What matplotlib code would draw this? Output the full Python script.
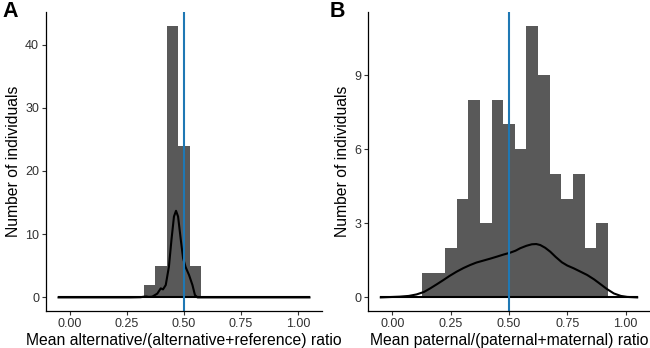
import matplotlib
matplotlib.use("Agg")
import matplotlib.pyplot as plt
import numpy as np

plt.rcParams['font.family'] = ['Liberation Sans', 'DejaVu Sans']

# histogram bins (width 0.05) and counts
edges_a = [0.325, 0.375, 0.425, 0.475, 0.525, 0.575]
counts_a = [2, 5, 43, 24, 5]
edges_b = [0.125, 0.175, 0.225, 0.275, 0.325, 0.375, 0.425, 0.475, 0.525,
           0.575, 0.625, 0.675, 0.725, 0.775, 0.825, 0.875, 0.925]
counts_b = [1, 1, 2, 4, 8, 3, 8, 7, 6, 11, 9, 5, 4, 5, 2, 3]

# density curves
dens_xa = [-0.05, 0.266, 0.31, 0.325, 0.335, 0.346, 0.361, 0.383, 0.398, 0.408,
           0.42, 0.434, 0.445, 0.456, 0.465, 0.474, 0.486, 0.496, 0.507, 0.522,
           0.537, 0.548, 0.559, 1.05]
dens_ya = [0, 0, 0.03, 0.12, 0.14, 0.07, 0.12, 0.6, 1.43, 1.27,
           1.96, 4.9, 9.1, 12.8, 13.7, 12.8, 9.1, 6.2, 4.8, 3.55,
           1.96, 0.37, 0, 0]
dens_xb = [-0.05, 0.031, 0.07, 0.103, 0.135, 0.161, 0.19, 0.218, 0.245, 0.275,
           0.305, 0.333, 0.36, 0.39, 0.42, 0.448, 0.475, 0.505, 0.528, 0.548,
           0.575, 0.598, 0.617, 0.634, 0.655, 0.677, 0.70, 0.727, 0.75, 0.777,
           0.805, 0.835, 0.865, 0.892, 0.92, 0.95, 0.98, 1.007, 1.05]
dens_yb = [0, 0.03, 0.06, 0.12, 0.22, 0.36, 0.53, 0.70, 0.87, 1.04,
           1.19, 1.31, 1.41, 1.49, 1.57, 1.65, 1.73, 1.81, 1.89, 1.99,
           2.09, 2.15, 2.16, 2.12, 2.01, 1.85, 1.64, 1.42, 1.29, 1.18,
           1.05, 0.91, 0.73, 0.54, 0.34, 0.16, 0.06, 0.02, 0]

xticks = [0.0, 0.25, 0.5, 0.75, 1.0]
xticklabels = ['0.00', '0.25', '0.50', '0.75', '1.00']
yticks_a = [0, 10, 20, 30, 40]
yticks_b = [0, 3, 6, 9]
vline_x = 0.5

bar_color = '#595959'
line_blue = '#1f78b4'

fig = plt.figure(figsize=(6.5, 3.48), dpi=100)
W, H = 650, 348
ax_a = fig.add_axes([46 / W, 37 / H, 276 / W, 299 / H])
ax_b = fig.add_axes([368 / W, 37 / H, 282 / W, 299 / H])

panels = [
    (ax_a, edges_a, counts_a, dens_xa, dens_ya, yticks_a,
     'Mean alternative/(alternative+reference) ratio', 'A'),
    (ax_b, edges_b, counts_b, dens_xb, dens_yb, yticks_b,
     'Mean paternal/(paternal+maternal) ratio', 'B'),
]

for ax, edges, counts, dx, dy, yt, xlabel, tag in panels:
    ax.stairs(counts, edges, fill=True, color=bar_color, linewidth=0)
    ax.plot(dx, dy, color='black', lw=1.5, solid_joinstyle='round')
    ax.plot([dx[0], dx[-1]], [0, 0], color='black', lw=1.5)
    ax.axvline(vline_x, color=line_blue, lw=1.5)
    top = max(counts)
    ax.set_xlim(-0.105, 1.105)
    ax.set_ylim(-0.05 * top, 1.05 * top)
    ax.set_xticks(xticks)
    ax.set_xticklabels(xticklabels)
    ax.set_yticks(yt)
    ax.tick_params(length=3, width=0.8, color='#333333', labelsize=9,
                   labelcolor='#303030', pad=2)
    for s in ['top', 'right']:
        ax.spines[s].set_visible(False)
    for s in ['left', 'bottom']:
        ax.spines[s].set_linewidth(0.9)
    ax.set_xlabel(xlabel, fontsize=11.3, labelpad=2)
    ax.set_ylabel('Number of individuals', fontsize=11.3, labelpad=3)

fig.text(2 / W, 1 - 1 / H, 'A', fontsize=15.5, fontweight='bold', va='top', ha='left')
fig.text(330 / W, 1 - 1 / H, 'B', fontsize=15.5, fontweight='bold', va='top', ha='left')

fig.savefig('out.png', dpi=100)
